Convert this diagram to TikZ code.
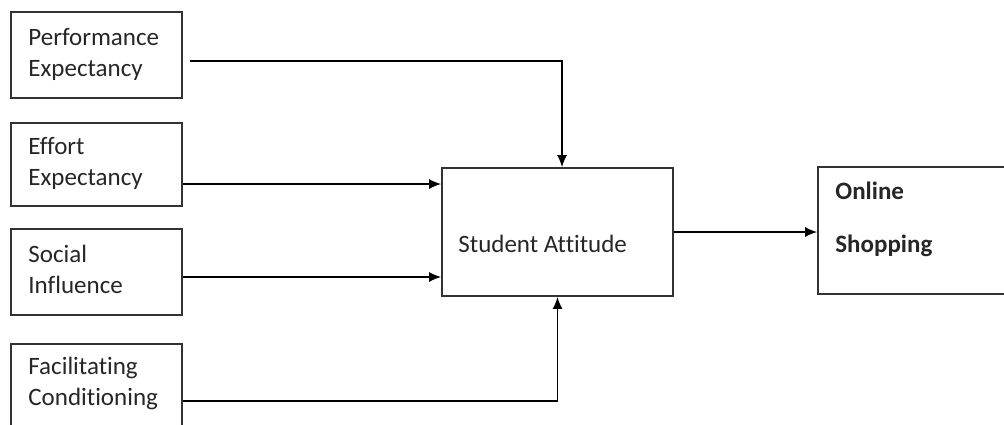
\documentclass[tikz,border=0pt]{standalone}
\usepackage{fontspec}
\setmainfont{Carlito}[Ligatures=CommonOff]
\usetikzlibrary{arrows.meta, calc}

\begin{document}
\begin{tikzpicture}[x=0.5pt, y=-0.5pt,
    box/.style={draw=black!80, line width=0.9pt, minimum width=85.5pt, inner sep=0pt},
    lbl/.style={text=black!85, font=\fontsize{12.5}{15.5}\selectfont, align=left, inner sep=0pt, anchor=base west},
    conn/.style={line width=0.7pt, -{Latex[length=6pt, width=5pt]}}]

    \useasboundingbox (0,0) rectangle (1004,424);

    % boxes
    \node[box, minimum height=43pt] (pe) at (96.5, 55) {};
    \node[box, minimum height=41.5pt] (ee) at (96.5, 164.5) {};
    \node[box, minimum height=43pt] (si) at (96.5, 272) {};
    \node[box, minimum height=42pt] (fc) at (96.5, 386) {};
    \node[box, minimum width=115.5pt, minimum height=64pt] (sa) at (557.5, 232) {};
    \node[box, minimum width=100pt, minimum height=63.5pt] (os) at (918, 230.5) {};

    % texts (anchored on the last line)
    \node[lbl] (petext) at (28, 76) {Performance\\Expectancy};
    \node[lbl] (eetext) at (28, 185) {Effort\\Expectancy};
    \node[lbl] (sitext) at (28, 293) {Social\\Influence};
    \node[lbl] (fctext) at (28, 405) {Facilitating\\Conditioning};
    \node[lbl] (satext) at (458, 252) {Student Attitude};
    \node[lbl, font=\bfseries\fontsize{12.5}{26.5}\selectfont] (ostext) at (835, 252) {Online\\Shopping};

    % connectors
    \draw[conn] ([shift={(3.5pt,-3pt)}]pe.east) -| ([xshift=2.25pt]sa.north);
    \draw[conn] ([yshift=-9.75pt]ee.east) -- ([yshift=-9.75pt]ee.east -| sa.west);
    \draw[conn] ([yshift=-2.5pt]si.east) -- ([yshift=-2.5pt]si.east -| sa.west);
    \draw[conn] ([yshift=-7.5pt]fc.east) -| (sa.south);
    \draw[conn] (sa.east) -- (sa.east -| os.west);
\end{tikzpicture}
\end{document}
